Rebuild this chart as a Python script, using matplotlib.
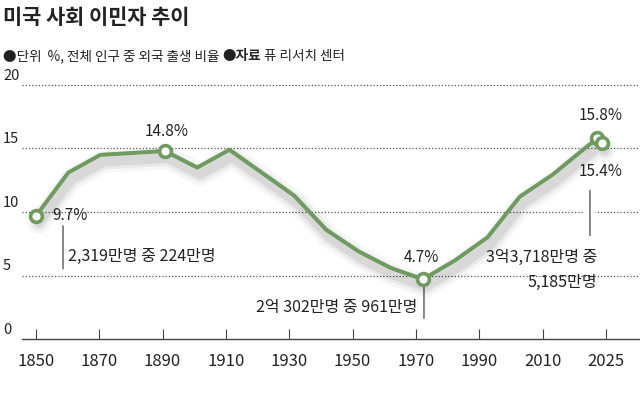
import numpy as np
import matplotlib
matplotlib.use('Agg')
import matplotlib.pyplot as plt
from matplotlib import patheffects as pe
from matplotlib.transforms import Affine2D

plt.rcParams['font.family'] = ['Noto Sans CJK KR', 'DejaVu Sans']

# data
years = [1850, 1860, 1870, 1890, 1900, 1910, 1930, 1940, 1950, 1960, 1970, 1980, 1990, 2000, 2010, 2024, 2025.5]
share = [9.7, 13.1, 14.5, 14.8, 13.5, 14.9, 11.3, 8.6, 6.9, 5.6, 4.7, 6.2, 8.0, 11.2, 12.9, 15.8, 15.4]
marked = [0, 3, 10, 15, 16]  # points drawn with open circles
tick_labels = ['1850', '1870', '1890', '1910', '1930', '1950', '1970', '1990', '2010', '2025']
grid_vals = [5, 10, 15, 20]

title = '미국 사회 이민자 추이'
sub_1 = '●단위  %, 전체 인구 중 외국 출생 비율 '
sub_2 = '●자료'
sub_3 = ' 퓨 리서치 센터'

GREEN = '#6f9a60'
TXT = '#222222'

fig = plt.figure(figsize=(6.4, 3.93), dpi=100)
ax = fig.add_axes([22 / 640, 54 / 393, 618 / 640, 254 / 393])
ax.set_xlim(1845.66, 2037.3)
ax.set_ylim(0, 20)

for s in ['top', 'right', 'left']:
    ax.spines[s].set_visible(False)
ax.spines['bottom'].set_color('#444444')
ax.spines['bottom'].set_linewidth(1)

tick_pos = np.linspace(1850, 2026.7, len(tick_labels))
ax.set_xticks(tick_pos, tick_labels)
ax.tick_params(axis='x', direction='in', length=7, width=0.8, color='#444444',
               pad=10, labelsize=12, labelcolor=TXT)
ax.set_yticks([])

for v in grid_vals:
    ax.axhline(v, color='#555555', lw=0.9, ls=(0, (1, 1.6)), zorder=1, clip_on=False)
for v in [0] + grid_vals:
    ax.annotate(str(v), xy=(3 / 640, v), xycoords=('figure fraction', 'data'),
                xytext=(0, 2), textcoords='offset pixels', ha='left', va='bottom',
                fontsize=10.5, color=TXT)

# line with a soft shadow
shadow = [pe.SimpleLineShadow(offset=(2, -5), shadow_color='k', alpha=a, linewidth=w)
          for w, a in [(16, 0.035), (11, 0.05), (7, 0.07)]]
ax.plot(years, share, color=GREEN, lw=2.9, solid_joinstyle='round', solid_capstyle='round',
        zorder=3, path_effects=shadow + [pe.Normal()])
for i in marked:
    ax.plot(years[i], share[i], 'o', ms=8.5, mfc='white', mec=GREEN, mew=2.6, zorder=4)


def put(i, s, dx, dy, **kw):
    # text placed at a pixel offset from data point i
    tr = ax.transData + Affine2D().translate(dx, dy)
    ax.text(years[i], share[i], s, transform=tr, color=TXT, **kw)


def leader(i, dx, dy0, dy1, knock=False):
    t0 = ax.transData + Affine2D().translate(dx, dy0)
    t1 = ax.transData + Affine2D().translate(dx, dy1)
    if knock:
        ax.annotate('', xy=(years[i], share[i]), xycoords=t1, xytext=(years[i], share[i]),
                    textcoords=t0, arrowprops=dict(arrowstyle='-', color='white', lw=8,
                                                   shrinkA=0, shrinkB=0), zorder=2)
    ax.annotate('', xy=(years[i], share[i]), xycoords=t1, xytext=(years[i], share[i]),
                textcoords=t0, arrowprops=dict(arrowstyle='-', color='#444444', lw=0.9,
                                               shrinkA=0, shrinkB=0), zorder=2)


put(0, '9.7%', 16, 0, ha='left', va='center', fontsize=11)
leader(0, 27, -10, -53)
put(0, '2,319만명 중 224만명', 32, -41, ha='left', va='center', fontsize=11.5)

put(3, '14.8%', 2, 20, ha='center', va='center', fontsize=11)

put(10, '4.7%', -2, 22, ha='center', va='center', fontsize=11)
leader(10, 1, -6, -39)
put(10, '2억 302만명 중 961만명', -6, -28, ha='right', va='center', fontsize=11.5)

put(15, '15.8%', 4, 23, ha='center', va='center', fontsize=11)
put(16, '15.4%', -1, -28, ha='center', va='center', fontsize=11)
leader(16, -12, -47, -92, knock=True)
put(16, '3억3,718만명 중', -5, -114, ha='right', va='center', fontsize=11.5)
put(16, '5,185만명', -5, -139, ha='right', va='center', fontsize=11.5)

# header
fig.text(3 / 640, 1 - 18 / 393, title, fontsize=15, fontweight='bold', color=TXT,
         ha='left', va='center')
r = fig.canvas.get_renderer()
x = 3
for s, w in [(sub_1, 'normal'), (sub_2, 'bold'), (sub_3, 'normal')]:
    t = fig.text(x / 640, 1 - 56 / 393, s, fontsize=9.8, fontweight=w, color=TXT,
                 ha='left', va='center')
    x = t.get_window_extent(r).x1

fig.savefig('out.png', dpi=100)
